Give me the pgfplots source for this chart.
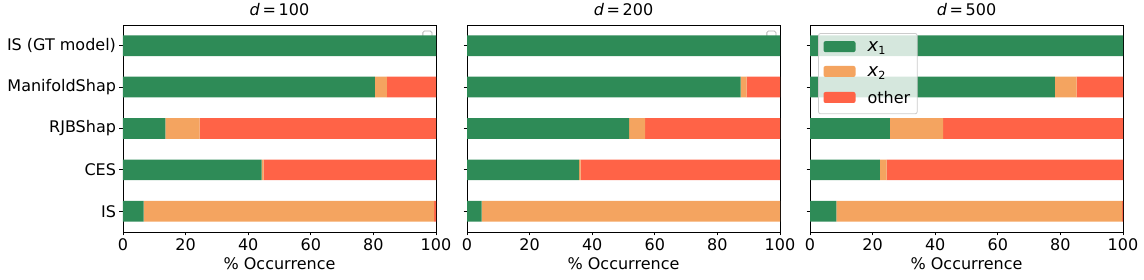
\documentclass[border=0pt]{standalone}
\usepackage{fontspec}
\setmainfont{DejaVu Sans}
\usepackage{pgfplots}
\usepackage{pgfplotstable}
\pgfplotsset{compat=1.18}
\definecolor{cx1}{HTML}{2E8B57}
\definecolor{cx2}{HTML}{F4A460}
\definecolor{cot}{HTML}{FF6347}

\pgfplotstableread{
y x1 x2 ot
0 6.6 92.8 0.6
1 44.3 0.6 55.1
2 13.5 11.0 75.5
3 80.5 3.8 15.7
4 100 0 0
}\tA
\pgfplotstableread{
y x1 x2 ot
0 4.7 95.3 0
1 35.8 0.5 63.7
2 51.8 5.1 43.1
3 87.4 1.9 10.7
4 100 0 0
}\tB
\pgfplotstableread{
y x1 x2 ot
0 8.4 91.3 0.3
1 22.3 2.2 75.5
2 25.5 17.0 57.5
3 78.2 7.0 14.8
4 100 0 0
}\tC

\pgfplotsset{
 panel/.style={
  scale only axis, width=313pt, height=207pt,
  xbar stacked, bar width=0.5,
  xmin=0, xmax=100, ymin=-0.5, ymax=4.5,
  xtick={0,20,...,100}, ytick={0,...,4},
  tick align=outside, tick pos=left,
  major tick length=3.5pt,
  every tick/.style={black, line width=0.8pt},
  axis line style={line width=0.8pt},
  /pgf/number format/assume math mode=true,
  tick label style={font=\fontsize{16}{19}\selectfont},
  label style={font=\fontsize{16}{19}\selectfont},
  title style={font=\fontsize{16}{19}\selectfont},
  xlabel={\% Occurrence},
  every axis plot/.append style={draw=none},
  legend image code/.code={\fill[##1, fill opacity=1] (0pt,-4.5pt) rectangle (32pt,6.5pt);},
 }
}

\begin{document}
\begin{tikzpicture}
\useasboundingbox (0,0) rectangle (1144pt,280pt);
% panel 1
\begin{axis}[panel, at={(123pt,48pt)}, anchor=south west,
  title={\textit{d}\,=\,100},
  yticklabels={IS, CES, RJBShap, ManifoldShap, IS (GT model)}]
\addplot[fill=cx1] table[x=x1,y=y] {\tA};
\addplot[fill=cx2] table[x=x2,y=y] {\tA};
\addplot[fill=cot] table[x=ot,y=y] {\tA};
\draw[black!30, line width=0.8pt, fill=white, fill opacity=0.8, rounded corners=1.5pt] (rel axis cs:0.958,0.937) rectangle (rel axis cs:0.987,0.971);
\end{axis}
% panel 2
\begin{axis}[panel, at={(467pt,48pt)}, anchor=south west,
  title={\textit{d}\,=\,200},
  yticklabels={}]
\addplot[fill=cx1] table[x=x1,y=y] {\tB};
\addplot[fill=cx2] table[x=x2,y=y] {\tB};
\addplot[fill=cot] table[x=ot,y=y] {\tB};
\draw[black!30, line width=0.8pt, fill=white, fill opacity=0.8, rounded corners=1.5pt] (rel axis cs:0.958,0.937) rectangle (rel axis cs:0.987,0.971);
\end{axis}
% panel 3
\begin{axis}[panel, at={(810pt,48pt)}, anchor=south west,
  title={\textit{d}\,=\,500},
  yticklabels={},
  legend cell align=left,
  legend style={at={(0.026,0.961)}, anchor=north west, draw=black!20,
    line width=0.8pt,
    fill=white, fill opacity=0.8, text opacity=1, rounded corners=2pt,
    inner xsep=5pt, inner ysep=6.5pt,
    font=\fontsize{16}{19}\selectfont, row sep=9.5pt,
    /tikz/every odd column/.append style={column sep=10pt}}]
\addplot[fill=cx1] table[x=x1,y=y] {\tC};
\addplot[fill=cx2] table[x=x2,y=y] {\tC};
\addplot[fill=cot] table[x=ot,y=y] {\tC};
\legend{{\fontsize{18}{19}\selectfont\textit{x}}\textsubscript{1}, {\fontsize{18}{19}\selectfont\textit{x}}\textsubscript{2}, other}
\end{axis}
\end{tikzpicture}
\end{document}
